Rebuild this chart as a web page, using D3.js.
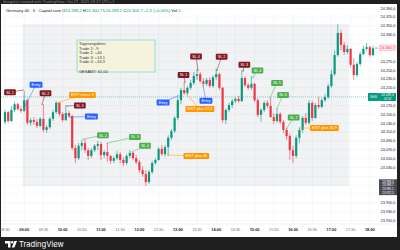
<!DOCTYPE html>
<html>
<head>
<meta charset="utf-8">
<script src="https://cdn.jsdelivr.net/npm/d3@7"></script>
<style>
html, body { margin: 0; padding: 0; background: #1f1f1f; }
svg { display: block; font-family: "Liberation Sans", Arial, sans-serif; }
</style>
</head>
<body>
<svg id="chart" width="400" height="250"></svg>
<script>
// 5-minute candles, first one at 08:30
var opens  = [24133,24155,24135,24160,24173,24162,24158,24182,24131,24137,24133,24124,24140,24115,24121,24140,24155,24176,24151,24137,24153,24146,24074,24051,24079,24085,24069,24056,24069,24079,24083,24058,24065,24056,24045,24051,24060,24047,24040,24056,24063,24051,24042,24024,24015,23997,24020,24040,24047,24072,24060,24076,24097,24112,24142,24182,24205,24198,24210,24221,24237,24241,24225,24219,24228,24214,24234,24241,24210,24137,24160,24171,24180,24185,24180,24232,24216,24210,24219,24182,24149,24160,24176,24169,24144,24135,24151,24133,24115,24101,24069,24056,24097,24115,24142,24131,24176,24142,24171,24167,24182,24189,24214,24241,24284,24334,24307,24291,24298,24262,24239,24264,24286,24298,24302,24284,24299.2];
var highs  = [24160,24158,24169,24178,24176,24169,24203,24185,24142,24144,24140,24144,24173,24126,24144,24160,24180,24178,24155,24171,24158,24149,24081,24085,24092,24094,24074,24074,24083,24090,24088,24069,24085,24058,24056,24067,24065,24054,24060,24069,24065,24058,24047,24033,24024,24024,24045,24051,24076,24081,24081,24103,24117,24146,24189,24210,24223,24214,24228,24246,24253,24246,24232,24232,24234,24239,24253,24244,24212,24164,24176,24185,24189,24192,24250,24237,24221,24237,24221,24187,24164,24180,24182,24187,24153,24164,24155,24137,24119,24106,24079,24103,24121,24146,24153,24182,24180,24176,24189,24187,24196,24219,24250,24295,24354,24341,24314,24307,24300,24277,24268,24291,24305,24311,24305,24305,24300.7];
var lows   = [24128,24131,24133,24155,24158,24153,24155,24126,24124,24126,24119,24121,24110,24108,24117,24135,24151,24146,24133,24135,24142,24069,24040,24047,24069,24063,24047,24051,24065,24069,24047,24051,24042,24038,24040,24047,24040,24033,24036,24051,24047,24038,24018,24009,23988,23993,24015,24036,24045,24056,24054,24056,24092,24108,24137,24173,24194,24194,24205,24216,24228,24221,24214,24214,24210,24210,24228,24205,24131,24128,24155,24164,24176,24176,24178,24212,24205,24205,24178,24144,24133,24155,24164,24142,24128,24131,24128,24108,24092,24047,24040,24051,24085,24108,24126,24126,24135,24140,24162,24164,24178,24185,24210,24237,24280,24295,24284,24286,24257,24228,24234,24259,24284,24293,24280,24282,24299.2];
var closes = [24155,24135,24160,24173,24162,24158,24182,24131,24137,24133,24124,24140,24115,24121,24140,24155,24176,24151,24137,24153,24146,24074,24051,24079,24085,24069,24056,24069,24079,24083,24058,24065,24056,24045,24051,24060,24047,24040,24056,24063,24051,24042,24024,24015,23997,24020,24040,24047,24072,24060,24076,24097,24112,24142,24182,24205,24198,24210,24221,24237,24241,24225,24219,24228,24214,24234,24241,24210,24137,24160,24171,24180,24185,24180,24232,24216,24210,24219,24182,24149,24160,24176,24169,24144,24135,24151,24133,24115,24101,24069,24056,24097,24115,24142,24131,24176,24142,24171,24167,24182,24189,24214,24241,24284,24334,24307,24291,24298,24262,24239,24264,24286,24298,24302,24284,24299.2,24300.7];

var priceTicks = [24390,24370,24350,24330,24310,24290,24270,24250,24230,24210,24190,24170,24150,24130,24110,24090,24070,24050,24030,24010,23990,23970,23950,23930,23910];
var timeLabels = ["08:30","09:00","09:30","10:00","10:30","11:00","11:30","12:00","12:30","13:00","13:30","14:00","14:30","15:00","15:30","16:00","16:30","17:00","17:30","18:00"];
var sessionFrom = "09:00", sessionTo = "17:25";
var refPrice = 24189.4;
var darkVals = [23998.3, 23989.7, 23981.1, 23972.5];

// drawn labels: text, kind, anchor (candle index, price), label centre (candle index, price)
var annoText = ["SL 1","Entry","SL 2","EXIT minus 9","SL 3","Entry","SL 2","SL 3","SL 4","EXIT plus 40","Entry","SL 1","SL 4","SL 2","Entry","EXIT plus 13,1","SL 3","SL 4","SL 5","SL 6","SL 7","EXIT plus 16,9"];
var annoKind = ["sl","entry","sl","exit","sl","entry","tp","tp","tp","exit","entry","sl","sl","sl","entry","exit","sl","tp","tp","tp","tp","exit"];
var annoAt   = [5.6,6.25,11.56,16.25,19.4,20.3,24.4,31.9,39.7,50.9,54.1,56.25,60.3,66.25,61.9,56.9,74.4,77.5,82.8,85,88.1,92.2];
var annoAtP  = [24205,24169,24173,24176,24169,24144,24094,24085,24065,24058,24192,24223,24250,24250,24214,24194,24248,24234,24187,24164,24119,24119];
var labAt    = [1.56,9.7,12.66,24.2,23.4,27.0,30.6,40.6,43.75,59.8,49.4,55.8,59.7,67.7,62.8,60.9,74.8,78.9,85,86.9,90.2,99.8];
var labAtP   = [24200,24217,24198,24194,24170,24145,24103,24099,24079,24056,24177,24239,24281,24280,24181,24162,24262,24249,24221,24194,24143,24119];

var infoLines = ["Tagesergebnis:", "Trade 1: -9", "Trade 2: +40", "Trade 3: +13,1", "Trade 4: +16,9", "", "GESAMT: 61,00"];

var kindColor = {sl: "#801922", tp: "#4caf50", entry: "#2962ff", exit: "#ff9800"};
var upColor = "#089981", downColor = "#f23645";

var de = d3.formatLocale({decimal: ",", thousands: ".", grouping: [3], currency: ["", ""]});
var fmt = de.format(",.1f");

function toIndex(t) {
    var p = t.split(":");
    return (+p[0] * 60 + +p[1] - 510) / 5;
}

var svg = d3.select("#chart");
var plotR = 378, plotT = 4, plotB = 224;

var x = d3.scaleLinear().domain([0, 116]).range([5, 5 + 3.2 * 116]);
var y = d3.scaleLinear().domain([24300, 24400]).range([48, 3.75]);

var last = closes[closes.length - 1];

// frame
svg.append("rect").attr("x", 1).attr("y", 4).attr("width", 396).attr("height", 233).attr("fill", "#fff");
svg.append("text").attr("x", 3).attr("y", 3).attr("font-size", 4).attr("fill", "#8a8a8a")
    .text("Image(s) created with TradingView, Oct 27, 2025 18:17 UTC+1");

svg.append("defs").append("clipPath").attr("id", "plot")
    .append("rect").attr("x", 1).attr("y", plotT).attr("width", plotR - 1).attr("height", plotB - plotT);

// grid
var grid = svg.append("g");
grid.selectAll("line.h").data(priceTicks).enter().append("line")
    .attr("x1", 1).attr("x2", plotR)
    .attr("y1", function(d) { return y(d); }).attr("y2", function(d) { return y(d); })
    .attr("stroke", "#f0f3fa").attr("stroke-width", 0.6);
grid.selectAll("line.v").data(timeLabels).enter().append("line")
    .attr("x1", function(d) { return x(toIndex(d)); }).attr("x2", function(d) { return x(toIndex(d)); })
    .attr("y1", plotT + 10).attr("y2", plotB)
    .attr("stroke", "#e6f1f1").attr("stroke-width", 0.6);

var plot = svg.append("g").attr("clip-path", "url(#plot)");

// session high/low box
var i0 = toIndex(sessionFrom), i1 = toIndex(sessionTo);
var sessHigh = d3.max(highs.slice(i0, i1 + 1)), sessLow = d3.min(lows.slice(i0, i1 + 1));
plot.append("rect")
    .attr("x", x(i0) - 1.6).attr("width", x(i1) - x(i0) + 3.2)
    .attr("y", y(sessHigh)).attr("height", y(sessLow) - y(sessHigh))
    .attr("fill", "#787b86").attr("fill-opacity", 0.1);

// reference line
plot.append("line").attr("x1", 1).attr("x2", plotR)
    .attr("y1", y(refPrice)).attr("y2", y(refPrice))
    .attr("stroke", upColor).attr("stroke-width", 0.6).attr("stroke-dasharray", "1,1").attr("opacity", 0.6);

// candles
var candles = plot.selectAll("g.c").data(opens).enter().append("g");
candles.append("line")
    .attr("x1", function(d, i) { return x(i); }).attr("x2", function(d, i) { return x(i); })
    .attr("y1", function(d, i) { return y(highs[i]); }).attr("y2", function(d, i) { return y(lows[i]); })
    .attr("stroke", function(d, i) { return closes[i] >= opens[i] ? upColor : downColor; })
    .attr("stroke-width", 0.6);
candles.append("rect")
    .attr("x", function(d, i) { return x(i) - 1.1; })
    .attr("width", 2.2)
    .attr("y", function(d, i) { return y(Math.max(opens[i], closes[i])); })
    .attr("height", function(d, i) { return Math.max(0.6, Math.abs(y(opens[i]) - y(closes[i]))); })
    .attr("fill", function(d, i) { return closes[i] >= opens[i] ? upColor : downColor; });

// connectors and labels
var annos = plot.selectAll("g.a").data(annoText).enter().append("g");
annos.append("line")
    .attr("x1", function(d, i) { return x(annoAt[i]); }).attr("y1", function(d, i) { return y(annoAtP[i]); })
    .attr("x2", function(d, i) { return x(labAt[i]); }).attr("y2", function(d, i) { return y(labAtP[i]); })
    .attr("stroke", function(d, i) { return kindColor[annoKind[i]]; }).attr("stroke-width", 0.5);
annos.append("circle")
    .attr("cx", function(d, i) { return x(annoAt[i]); }).attr("cy", function(d, i) { return y(annoAtP[i]); })
    .attr("r", 0.5).attr("fill", function(d, i) { return kindColor[annoKind[i]]; });
var labRects = annos.append("rect")
    .attr("fill", function(d, i) { return kindColor[annoKind[i]]; })
    .attr("rx", 1);
var labTexts = annos.append("text")
    .attr("x", function(d, i) { return x(labAt[i]); }).attr("y", function(d, i) { return y(labAtP[i]) + 1.4; })
    .attr("text-anchor", "middle").attr("font-size", 3.8).attr("fill", "#fff")
    .text(function(d) { return d; });
labTexts.each(function(d, i) {
    var w = this.getComputedTextLength() + 4;
    d3.select(labRects.nodes()[i])
        .attr("x", x(labAt[i]) - w / 2).attr("width", w)
        .attr("y", y(labAtP[i]) - 3).attr("height", 6);
});

// info box
var info = svg.append("g");
info.append("rect").attr("x", 77).attr("y", 40).attr("width", 78).attr("height", 32)
    .attr("fill", "#f6f3dc").attr("stroke", "#7fd6d6").attr("stroke-width", 0.8);
info.selectAll("text").data(infoLines).enter().append("text")
    .attr("x", 79).attr("y", function(d, i) { return 45 + i * 4.6; })
    .attr("font-size", 4).attr("fill", "#333")
    .text(function(d) { return d; });

// price axis (ticks hidden where a price label sits on top)
var covered = [last, refPrice].concat(darkVals);
var axisY = svg.append("g");
axisY.selectAll("text").data(priceTicks.filter(function(t) {
        return covered.every(function(c) { return Math.abs(y(t) - y(c)) > 5.5; });
    })).enter().append("text")
    .attr("x", 388).attr("y", function(d) { return y(d) + 1.4; })
    .attr("text-anchor", "middle").attr("font-size", 3.8).attr("fill", "#131722")
    .text(function(d) { return fmt(d); });

// last price label
axisY.append("rect").attr("x", 379).attr("y", y(last) - 2.8).attr("width", 17).attr("height", 5.6)
    .attr("fill", "#fde8ea").attr("stroke", "#f7a5ad").attr("stroke-width", 0.5).attr("rx", 0.8);
axisY.append("text").attr("x", 387.5).attr("y", y(last) + 1.4).attr("text-anchor", "middle")
    .attr("font-size", 3.8).attr("fill", downColor).text(fmt(last));

// reference price label
axisY.append("rect").attr("x", 368).attr("y", y(refPrice) - 4).attr("width", 11).attr("height", 8)
    .attr("fill", upColor).attr("rx", 0.6);
axisY.append("text").attr("x", 373.5).attr("y", y(refPrice) + 1.1).attr("text-anchor", "middle")
    .attr("font-size", 2.8).attr("fill", "#fff").text("DE40");
axisY.append("rect").attr("x", 379).attr("y", y(refPrice) - 4).attr("width", 17).attr("height", 8)
    .attr("fill", upColor).attr("rx", 0.6);
axisY.append("text").attr("x", 387.5).attr("y", y(refPrice) - 0.6).attr("text-anchor", "middle")
    .attr("font-size", 3.2).attr("fill", "#fff").text(fmt(refPrice));
axisY.append("text").attr("x", 387.5).attr("y", y(refPrice) + 3.2).attr("text-anchor", "middle")
    .attr("font-size", 2.8).attr("fill", "#fff").text("02:53");

// stacked dark labels near the session low
axisY.append("rect").attr("x", 379).attr("y", y(darkVals[0]) - 2.2).attr("width", 18)
    .attr("height", y(darkVals[3]) - y(darkVals[0]) + 4.4).attr("fill", "#4a4d57");
axisY.selectAll("text.dk").data(darkVals).enter().append("text")
    .attr("x", 388).attr("y", function(d) { return y(d) + 1.1; })
    .attr("text-anchor", "middle").attr("font-size", 2.9).attr("fill", "#fff")
    .text(function(d) { return fmt(d); });

// time axis
svg.append("line").attr("x1", 1).attr("x2", 397).attr("y1", plotB).attr("y2", plotB)
    .attr("stroke", "#e0e3eb").attr("stroke-width", 0.5);
svg.append("g").selectAll("text").data(timeLabels).enter().append("text")
    .attr("x", function(d) { return x(toIndex(d)); }).attr("y", 231)
    .attr("text-anchor", "middle").attr("font-size", 3.8)
    .attr("font-weight", function(d) { return d.slice(3) === "00" ? "bold" : "normal"; })
    .attr("fill", function(d) { return d.slice(3) === "00" ? "#131722" : "#6a6d78"; })
    .text(function(d) { return d; });

// legend
var lastO = opens[opens.length - 1], lastH = highs[highs.length - 1], lastL = lows[lows.length - 1];
var chg = last - closes[closes.length - 2];
var legend = svg.append("text").attr("x", 6).attr("y", 11.5).attr("font-size", 4.2).attr("fill", "#131722");
legend.append("tspan").text("Germany 40 · 5 · Capital.com ");
[["O", lastO], ["H", lastH], ["L", lastL], ["C", last]].forEach(function(p) {
    legend.append("tspan").text(" " + p[0]);
    legend.append("tspan").attr("fill", upColor).text(fmt(p[1]));
});
legend.append("tspan").attr("fill", upColor).text(" +" + de.format(".1f")(chg) + " (+0,00%)");
legend.append("tspan").text("  Vol ");
legend.append("tspan").attr("fill", upColor).text("2");

// footer
var foot = svg.append("g").attr("transform", "translate(5,241)");
foot.append("path").attr("d", "M0,0 H5.5 V6.5 H3 V2.4 H0 Z").attr("fill", "#fff");
foot.append("circle").attr("cx", 7.2).attr("cy", 1.3).attr("r", 1.2).attr("fill", "#fff");
foot.append("path").attr("d", "M9.4,0 H12 L9.4,6.5 H6.8 Z").attr("fill", "#fff");
foot.append("text").attr("x", 14).attr("y", 6.4).attr("font-size", 7.6).attr("fill", "#fff")
    .attr("font-family", "Inter, 'Liberation Sans', sans-serif").text("TradingView");
</script>
</body>
</html>
